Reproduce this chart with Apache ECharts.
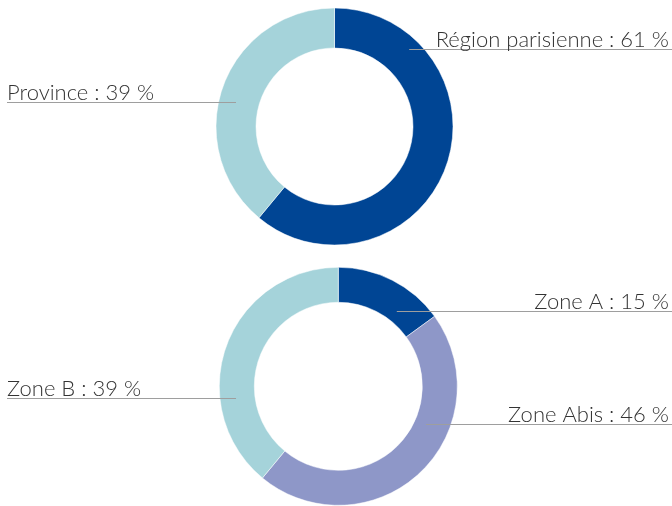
<!DOCTYPE html>
<html>
<head>
<meta charset="utf-8">
<script src="https://cdn.jsdelivr.net/npm/echarts@6/dist/echarts.min.js"></script>
<style>
  html, body { margin: 0; padding: 0; background: #fff; }
  #chart { width: 672px; height: 506px; }
</style>
</head>
<body>
<div id="chart"></div>
<script>
const topNames = ['Région parisienne', 'Province']
const topValues = [61, 39]
const bottomNames = ['Zone A', 'Zone Abis', 'Zone B']
const bottomValues = [15, 46, 39]

const colors = {
  'Région parisienne': '#004594',
  'Province': '#a5d3da',
  'Zone A': '#004594',
  'Zone Abis': '#8e97c8',
  'Zone B': '#a5d3da',
}

// where each leader line starts inside the ring: [angle in degrees, distance from centre]
const anchors = [
  [[46, 107.5], [165.8, 101.6]],
  [[52, 95], [-23.5, 95.7], [186.8, 103]],
]
const centers = [[334.5, 126.5], [338.3, 386.3]]
const radii = [[78.5, 118.5], [84, 119]]

const chart = echarts.init(document.getElementById('chart'))
const W = 672

function makeLayout(k) {
  return function (params) {
    const [deg, r] = anchors[k][params.dataIndex]
    const [cx, cy] = centers[k]
    const a = deg * Math.PI / 180
    const x0 = cx + r * Math.cos(a)
    const y = Math.round(cy - r * Math.sin(a)) + 0.5
    const right = x0 > cx
    return {
      x: right ? W - 3 : 7,
      y: y + 1,
      align: right ? 'right' : 'left',
      verticalAlign: 'bottom',
      labelLinePoints: right
        ? [[x0, y], [x0, y], [W, y]]
        : [[x0, y], [x0, y], [7, y]],
    }
  }
}

function ring(names, values, k) {
  return {
    type: 'pie',
    z: 2,
    center: centers[k],
    radius: radii[k],
    startAngle: 90,
    clockwise: true,
    silent: true,
    animation: false,
    label: { show: false },
    labelLine: { show: false },
    itemStyle: { borderColor: '#fff', borderWidth: 0.5 },
    data: names.map((n, i) => ({
      name: n,
      value: values[i],
      itemStyle: { color: colors[n] },
    })),
  }
}

// same slices, transparent, only to carry the labels and leader lines above the ring
function labels(names, values, k) {
  return {
    type: 'pie',
    z: 5,
    center: centers[k],
    radius: radii[k],
    startAngle: 90,
    clockwise: true,
    silent: true,
    animation: false,
    avoidLabelOverlap: false,
    label: {
      show: true,
      position: 'outside',
      formatter: '{b} : {c} %',
      fontFamily: 'Lato',
      fontWeight: 300,
      fontSize: 22,
      lineHeight: 22,
      color: '#333',
    },
    labelLine: {
      show: true,
      length: 0,
      length2: 0,
      smooth: false,
      lineStyle: { color: '#9e9e9e', width: 1 },
    },
    labelLayout: makeLayout(k),
    itemStyle: { color: 'rgba(0,0,0,0)' },
    data: names.map((n, i) => ({ name: n, value: values[i] })),
  }
}

chart.setOption({
  animation: false,
  series: [
    ring(topNames, topValues, 0),
    ring(bottomNames, bottomValues, 1),
    labels(topNames, topValues, 0),
    labels(bottomNames, bottomValues, 1),
  ],
})
</script>
</body>
</html>
